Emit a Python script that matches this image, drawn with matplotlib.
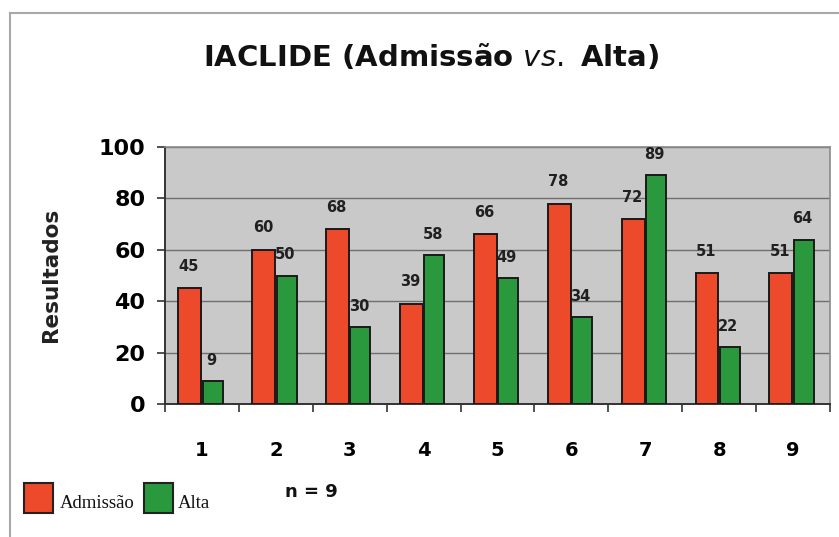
import matplotlib
matplotlib.use("Agg")
import matplotlib.pyplot as plt
from matplotlib.patches import Rectangle
from matplotlib.lines import Line2D
import numpy as np

categories = ["1", "2", "3", "4", "5", "6", "7", "8", "9"]
admissao = [45, 60, 68, 39, 66, 78, 72, 51, 51]
alta = [9, 50, 30, 58, 49, 34, 89, 22, 64]
yticks = [0, 20, 40, 60, 80, 100]

RED = "#ec4a2a"
GREEN = "#2a983c"

W, H = 839, 537
fig = plt.figure(figsize=(W / 100, H / 100), dpi=100)
fig.patch.set_facecolor("white")

# outer chart frame
fig.add_artist(Line2D([10 / W, 10 / W], [0, 1 - 13 / H], transform=fig.transFigure,
                      color="#a8a8a8", lw=1.5))
fig.add_artist(Line2D([10 / W, 1], [1 - 13 / H, 1 - 13 / H], transform=fig.transFigure,
                      color="#a8a8a8", lw=1.5))

ax = fig.add_axes([165 / W, 1 - 404 / H, (830 - 165) / W, (404 - 147) / H])
ax.set_facecolor("#c9c9c9")

x = np.arange(len(categories))
bw = 0.29
ax.bar(x - bw / 2 - 0.02, admissao, width=bw + 0.02, color=RED, edgecolor="#1a1a1a",
       linewidth=1.4, zorder=3)
ax.bar(x + bw / 2, alta, width=bw - 0.02, color=GREEN, edgecolor="#1a1a1a",
       linewidth=1.4, zorder=3)

lab_font = dict(fontsize=10.5, fontweight="bold", color="#202020",
                ha="center", va="center", family="DejaVu Sans", zorder=4)
for xi, v in zip(x, admissao):
    ax.text(xi - bw / 2 - 0.03, v + 8.5, str(v), **lab_font)
for xi, v in zip(x, alta):
    ax.text(xi + bw / 2 - 0.02, v + 8, str(v), **lab_font)

ax.set_xlim(-0.5, len(categories) - 0.5)
ax.set_ylim(0, 100)
ax.set_yticks(yticks)
ax.set_yticklabels([str(t) for t in yticks], fontsize=16, fontweight="heavy",
                   family="DejaVu Sans")
ax.set_xticks(np.arange(len(categories) + 1) - 0.5, minor=False)
ax.set_xticklabels([])
ax.set_xticks(x, minor=True)
ax.set_xticklabels(categories, minor=True, fontsize=14, fontweight="bold",
                   family="DejaVu Sans")
ax.tick_params(axis="x", which="minor", length=0, pad=27)
ax.tick_params(axis="x", which="major", length=6, width=1.2, color="#333333")
ax.tick_params(axis="y", length=6, width=1.2, color="#333333", pad=8)
ax.yaxis.grid(True, color="#6f6f6f", linewidth=1.0, zorder=0)
ax.set_axisbelow(True)
for side in ["top", "right"]:
    ax.spines[side].set_color("#8a8a8a")
    ax.spines[side].set_linewidth(1.2)
for side in ["left", "bottom"]:
    ax.spines[side].set_color("#333333")
    ax.spines[side].set_linewidth(1.4)

ax.set_ylabel("Resultados", fontsize=15.5, fontweight="heavy", family="DejaVu Sans",
              color="#222222")
ax.yaxis.set_label_coords((61 - 165) / (830 - 165), (404 - 275) / (404 - 147))

fig.text(431 / W, 1 - 57 / H, "IACLIDE (Admissão $\\mathbf{\\it{vs.}}$ Alta)",
         ha="center", va="center", fontsize=21, fontweight="heavy",
         family="DejaVu Sans", color="#111111")

# legend
fig.add_artist(Rectangle((24 / W, 1 - 513 / H), 29 / W, 30 / H, transform=fig.transFigure,
                         facecolor=RED, edgecolor="#222222", linewidth=1.5))
fig.text(60 / W, 1 - 508 / H, "Admissão", fontsize=13.5, family="Liberation Serif",
         va="baseline", ha="left", color="#111111")
fig.add_artist(Rectangle((144 / W, 1 - 513 / H), 29 / W, 30 / H, transform=fig.transFigure,
                         facecolor=GREEN, edgecolor="#222222", linewidth=1.5))
fig.text(178 / W, 1 - 508 / H, "Alta", fontsize=13.5, family="Liberation Serif",
         va="baseline", ha="left", color="#111111")
fig.text(311 / W, 1 - 492 / H, "n = 9", fontsize=13, fontweight="heavy",
         family="DejaVu Sans", va="center", ha="center", color="#111111")

fig.savefig("out.png", dpi=100, facecolor="white")
